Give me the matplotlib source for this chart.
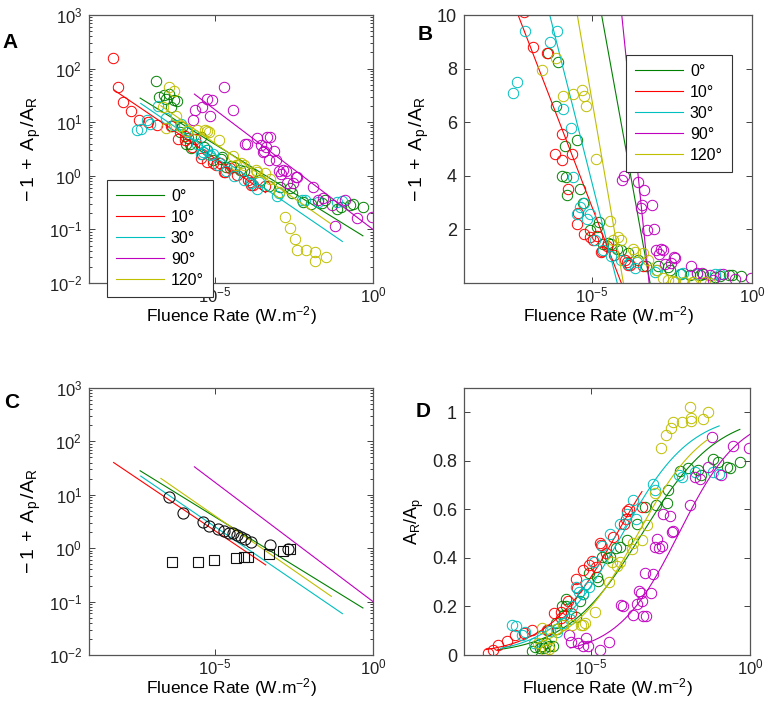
import numpy as np
import matplotlib.pyplot as plt
from matplotlib.ticker import FixedLocator, LogLocator, NullLocator, NullFormatter

plt.rcParams['font.family'] = ['Liberation Sans', 'DejaVu Sans']
plt.rcParams['mathtext.fontset'] = 'custom'
plt.rcParams['mathtext.rm'] = 'Liberation Sans'
plt.rcParams['mathtext.it'] = 'Liberation Sans:italic'
plt.rcParams['mathtext.bf'] = 'Liberation Sans:bold'
plt.rcParams['font.size'] = 11

angles = ['0°', '10°', '30°', '90°', '120°']
colours = [(0, 0.5, 0), (1, 0, 0), (0, 0.75, 0.75), (0.75, 0, 0.75), (0.75, 0.75, 0)]

# log10 of fluence rate (W.m-2) and -1 + Ap/AR for each angle
lf_0 = [-6.87, -6.77, -6.62, -6.56, -6.48, -6.41, -6.37, -6.32, -6.20, -6.06, -6.11, -5.93, -5.85, -5.80,
        -5.78, -5.46, -5.36, -5.27, -5.06, -4.83, -4.77, -4.65, -4.51, -4.41, -4.22, -4.09, -3.88, -3.57,
        -3.31, -2.95, -2.62, -2.57, -2.21, -1.95, -1.63, -1.53, -1.15, -1.00, -0.73, -0.63, -0.33]
f_0 = [59, 30, 32, 27, 33, 19, 8.6, 26, 25, 8.26, 6.6, 4.0, 5.1, 3.96,
       3.3, 5.33, 3.49, 3.0, 1.97, 2.1, 2.28, 1.47, 1.51, 1.47, 1.26, 1.24, 1.11, 0.85,
       0.64, 0.62, 0.60, 0.47, 0.32, 0.30, 0.31, 0.35, 0.24, 0.26, 0.29, 0.30, 0.26]

lf_10 = [-8.24, -8.09, -7.92, -7.66, -7.40, -7.12, -6.85, -6.40, -6.17, -5.95, -5.95, -5.74, -5.64, -5.46,
         -5.43, -5.25, -5.06, -4.96, -4.85, -4.72, -4.70, -4.53, -4.30, -3.97, -3.90, -3.88, -3.80, -3.41]
f_10 = [155, 45, 24, 16, 11, 10.1, 8.8, 8.6, 4.8, 5.55, 4.58, 3.5, 4.81, 2.19,
        2.6, 1.84, 1.70, 1.59, 1.75, 1.17, 1.20, 1.39, 1.05, 0.85, 0.78, 0.68, 0.66, 0.64]

lf_30 = [-7.48, -7.35, -7.17, -7.08, -6.80, -6.55, -6.30, -6.08, -5.90, -5.67, -5.59, -5.46, -5.38, -5.26,
         -5.17, -5.06, -4.90, -4.65, -4.40, -4.10, -3.88, -3.67, -3.60, -3.04, -2.98, -2.25, -2.15, -1.73,
         -1.15, -0.99]
f_30 = [7.1, 7.5, 11, 9.4, 20, 12, 9.0, 9.4, 6.5, 5.8, 3.96, 2.59, 2.84, 3.0,
        2.40, 2.59, 1.6, 1.22, 1.0, 0.85, 0.72, 0.57, 0.78, 0.42, 0.47, 0.35, 0.36, 0.33,
        0.33, 0.34]

lf_90 = [-5.69, -5.64, -5.41, -5.27, -5.17, -5.11, -4.72, -4.43, -4.07, -4.00, -3.67, -3.55, -3.48, -3.44,
         -3.39, -3.36, -3.29, -3.27, -3.13, -3.06, -2.99, -2.92, -2.85, -2.77, -2.73, -2.52, -2.45, -2.41,
         -1.90, -1.73, -1.57, -1.31, -1.21, -0.90, -0.52, -0.02]
f_90 = [11, 17, 19, 27, 13, 26, 45, 17, 3.86, 4.0, 5.0, 3.77, 2.78, 2.9,
        3.46, 5.2, 1.97, 5.3, 2.90, 2.0, 1.24, 1.10, 1.26, 1.22, 0.72, 0.74, 0.97, 0.95,
        0.62, 0.36, 0.38, 0.29, 0.115, 0.35, 0.16, 0.17]

lf_120 = [-6.66, -6.56, -6.46, -6.32, -6.25, -6.11, -5.90, -5.59, -5.32, -5.25, -5.20, -4.88, -4.44, -4.33,
          -4.18, -4.10, -3.71, -3.67, -3.41, -3.25, -2.99, -2.79, -2.64, -2.48, -2.42, -2.13, -1.89, -1.85,
          -1.85, -1.48, -1.31]
f_120 = [19.5, 7.95, 45, 39, 13, 8.38, 6.97, 7.05, 7.2, 6.97, 6.6, 4.61, 2.32, 1.62,
         1.72, 1.62, 1.28, 1.16, 1.11, 0.87, 0.50, 0.17, 0.104, 0.067, 0.041, 0.041, -0.02, 0.038,
         0.026, 0.030, 0.0]

log_fluence = [lf_0, lf_10, lf_30, lf_90, lf_120]
ratio_minus1 = [f_0, f_10, f_30, f_90, f_120]

# power-law fits: log10(-1+Ap/AR) = a + b*log10(F), over [lo, hi]
pow_a = [-1.236, -1.667, -1.616, -1.0, -1.442]
pow_b = [-0.364, -0.398, -0.403, -0.446, -0.409]
fit_lo = [-7.38, -8.22, -7.36, -5.66, -6.72]
fit_hi = [-0.32, -3.40, -0.97, 0.0, -1.32]
fit_lo_d = [-7.95, -8.30, -7.85, -5.66, -6.75]   # panel D curves start further left
# semi-log fits for panel B: -1+Ap/AR = c0 + c1*log10(F)
lin_c0 = [-21.02, -12.66, -19.96, -37.62, -27.89]
lin_c1 = [-6.6, -3.1, -4.74, -11.7, -6.94]

# panel C: black circles and squares
c_circ_lf = [-6.47, -6.03, -5.40, -5.19, -4.90, -4.72, -4.57, -4.43, -4.30, -4.19, -4.06, -3.88, -3.25, -2.69]
c_circ_f = [9.2, 4.56, 3.05, 2.64, 2.32, 2.07, 1.95, 1.90, 1.75, 1.65, 1.47, 1.33, 1.17, 0.97]
c_sq_lf = [-6.36, -5.53, -5.03, -4.34, -4.09, -3.95, -3.29, -2.85, -2.64]
c_sq_f = [0.54, 0.56, 0.60, 0.65, 0.68, 0.68, 0.77, 0.90, 0.97]

YLAB = r'$\mathregular{-\,1\;+\;A_p\,/A_R}$'

W, H = 765, 714
fig = plt.figure(figsize=(W / 100, H / 100), dpi=100)


def rect(x0, y0, x1, y1):
    return [x0 / W, 1 - y1 / H, (x1 - x0) / W, (y1 - y0) / H]


def style(ax, logy):
    ax.set_xscale('log')
    ax.set_xlim(1e-9, 1)
    ax.xaxis.set_major_locator(FixedLocator([1e-5, 1e0]))
    ax.xaxis.set_minor_locator(NullLocator())
    if logy:
        ax.set_yscale('log')
        ax.set_ylim(1e-2, 1e3)
        ax.yaxis.set_major_locator(LogLocator(base=10, numticks=10))
        ax.yaxis.set_minor_locator(LogLocator(base=10, subs=np.arange(2, 10), numticks=10))
        ax.yaxis.set_minor_formatter(NullFormatter())
        ax.set_ylabel(YLAB, fontsize=14)
    ax.tick_params(which='both', direction='in', top=True, right=True, colors='#222222',
                   labelsize=12, width=0.6)
    ax.tick_params(which='major', length=4)
    ax.tick_params(which='minor', length=2)
    ax.tick_params(axis='x', pad=2)
    ax.tick_params(axis='y', pad=5)
    for s in ax.spines.values():
        s.set_color('#555555')
        s.set_linewidth(0.9)
    ax.set_xlabel(r'Fluence Rate (W.m$^{-2}$)', fontsize=12.5, labelpad=-1)


axA = fig.add_axes(rect(89, 15, 373, 283))
axB = fig.add_axes(rect(464, 15, 752, 283))
axC = fig.add_axes(rect(89, 388, 373, 655))
axD = fig.add_axes(rect(464, 388, 750, 655))

for i in range(5):
    x = 10.0 ** np.array(log_fluence[i])
    f = np.array(ratio_minus1[i])
    c = colours[i]
    lx = np.linspace(fit_lo[i], fit_hi[i], 200)
    xf = 10.0 ** lx
    ff = 10.0 ** (pow_a[i] + pow_b[i] * lx)
    lxd = np.linspace(fit_lo_d[i], fit_hi[i], 200)
    ffd = 10.0 ** (pow_a[i] + pow_b[i] * lxd)

    axA.plot(x, np.where(f > 0, f, np.nan), 'o', mfc='none', mec=c, ms=7.5, mew=0.7)
    axA.plot(xf, ff, '-', color=c, lw=0.8, label=angles[i])

    axB.plot(x, f, 'o', mfc='none', mec=c, ms=7.5, mew=0.7)
    axB.plot(xf, lin_c0[i] + lin_c1[i] * lx, '-', color=c, lw=0.8, label=angles[i])

    axC.plot(xf, ff, '-', color=c, lw=0.8)

    axD.plot(x, 1 / (1 + f), 'o', mfc='none', mec=c, ms=7.5, mew=0.7)
    axD.plot(10.0 ** lxd, 1 / (1 + ffd), '-', color=c, lw=0.8)

axC.plot(10.0 ** np.array(c_circ_lf), c_circ_f, 'o', mfc='none', mec='#111111', ms=8, mew=0.8)
axC.plot(10.0 ** np.array(c_sq_lf), c_sq_f, 's', mfc='none', mec='#111111', ms=7, mew=0.8)

style(axA, True)
style(axB, False)
style(axC, True)
style(axD, False)

axB.set_ylim(0, 10)
axB.set_yticks([2, 4, 6, 8, 10])
axB.set_ylabel(YLAB, fontsize=14)
axB.tick_params(axis='y', labelsize=13)
axD.set_ylim(0, 1.1)
axD.set_yticks([0, 0.2, 0.4, 0.6, 0.8, 1])
axD.set_yticklabels(['0', '0.2', '0.4', '0.6', '0.8', '1'])
axD.tick_params(axis='y', labelsize=13)
axD.set_ylabel(r'$\mathregular{A_R/A_p}$', fontsize=13)

for ax, anchor in [(axA, (107 / W, 1 - 180 / H)), (axB, (626 / W, 1 - 55 / H))]:
    leg = ax.legend(loc='upper left', bbox_to_anchor=anchor, bbox_transform=fig.transFigure,
                    fontsize=11.5, handlelength=3.0, handletextpad=0.45, labelspacing=0.38,
                    borderpad=0.55, frameon=True, fancybox=False, framealpha=1,
                    borderaxespad=0)
    leg.get_frame().set_edgecolor('#333333')
    leg.get_frame().set_linewidth(0.8)
    leg.set_zorder(5)

for lab, (px, py) in zip('ABCD', [(10, 43), (425, 34), (12, 403), (423, 412)]):
    fig.text(px / W, 1 - py / H, lab, fontsize=15, fontweight='bold', ha='center', va='center')

fig.savefig('out.png', dpi=100)
